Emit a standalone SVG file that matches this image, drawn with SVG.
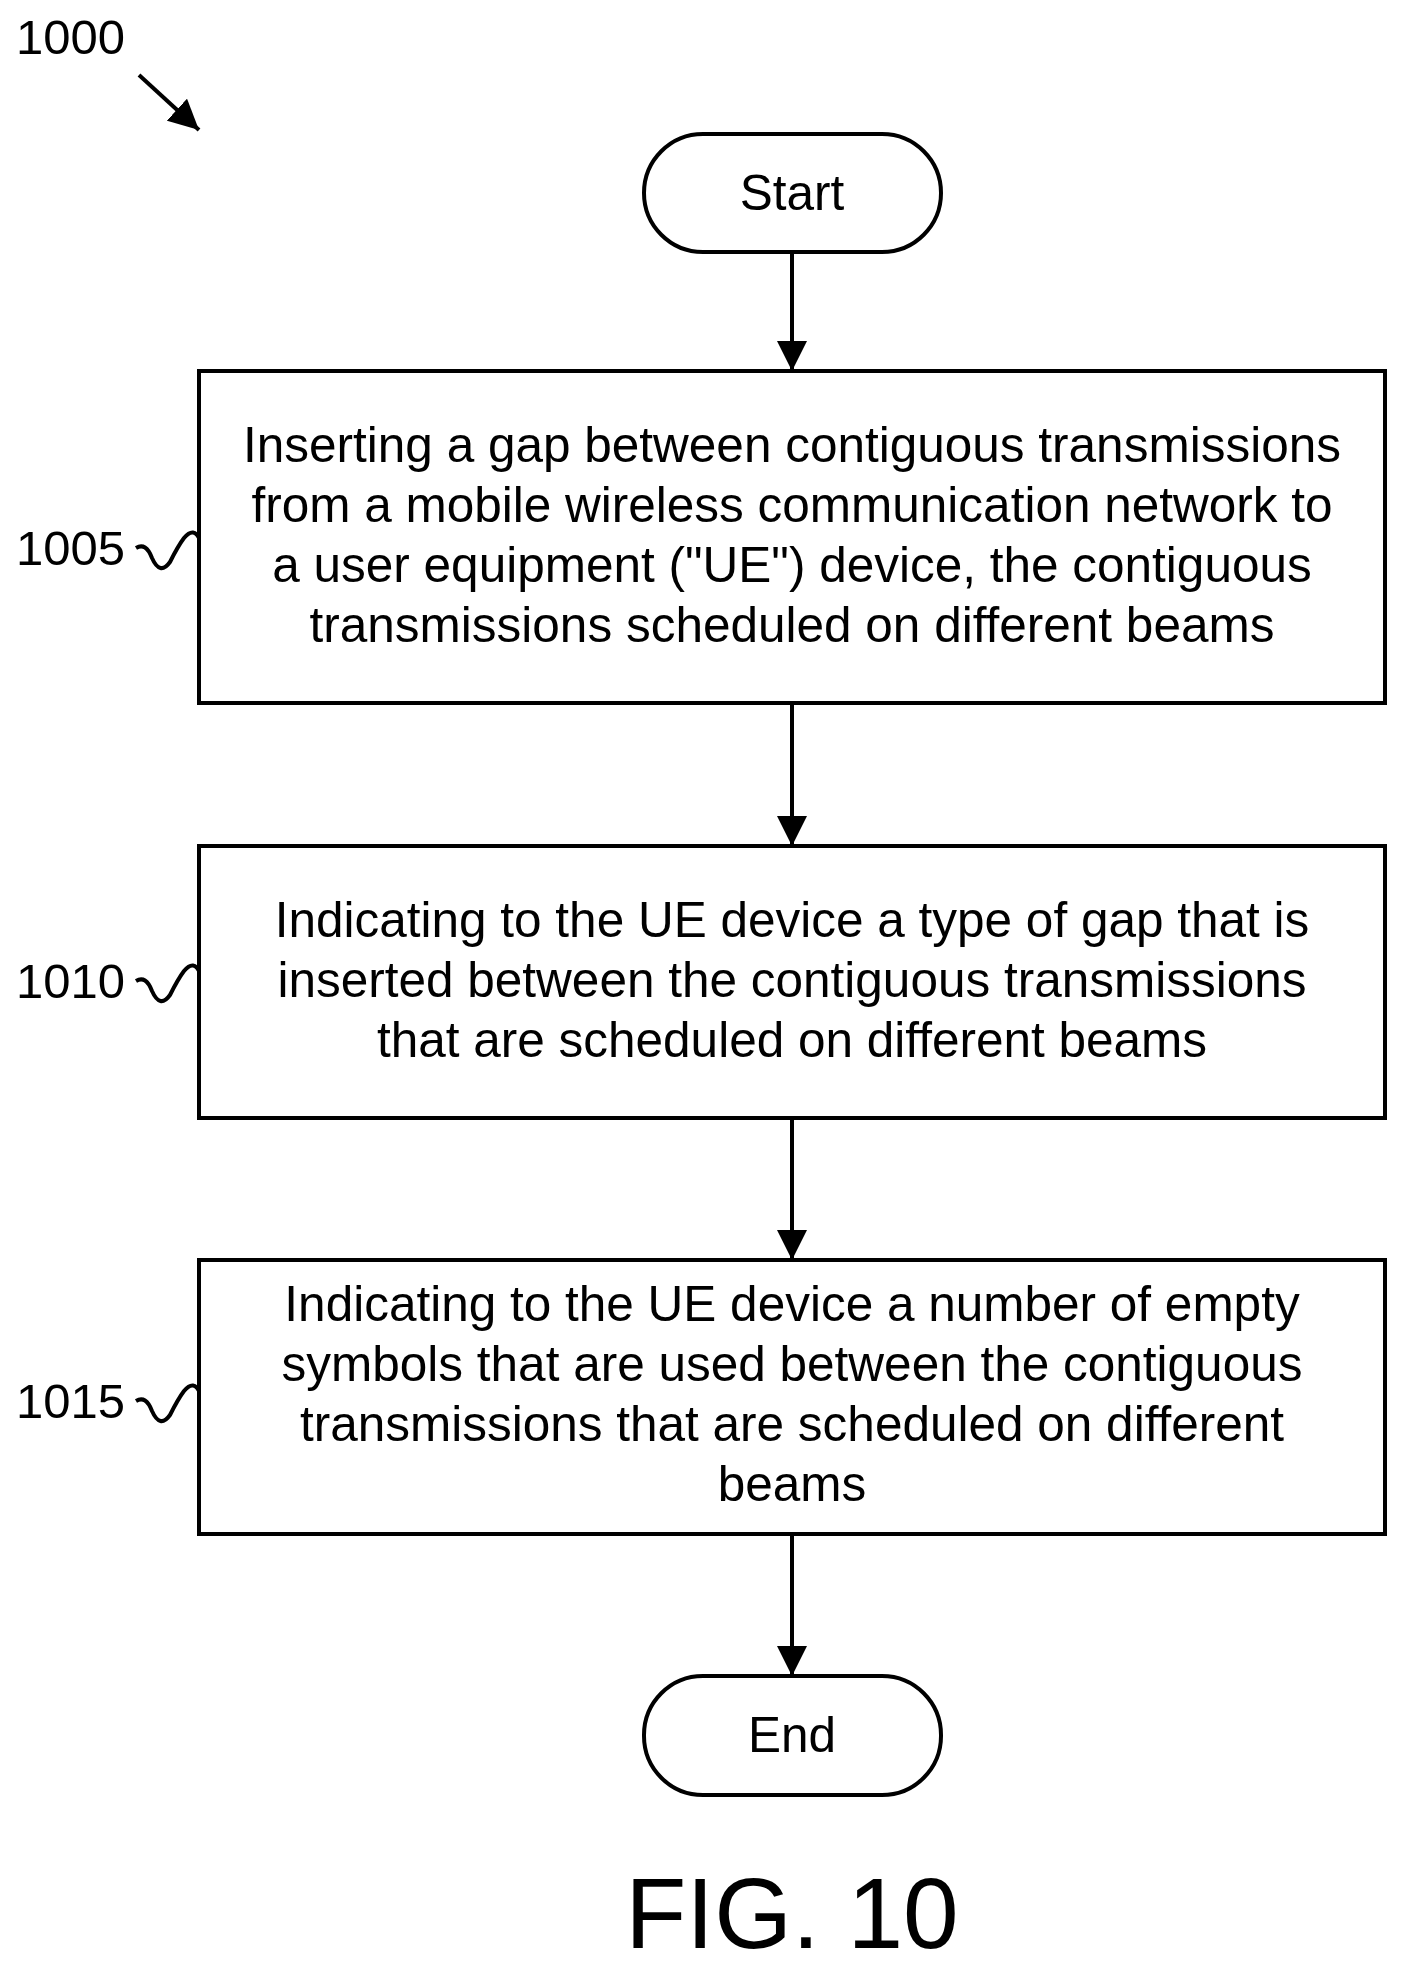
<svg xmlns="http://www.w3.org/2000/svg" width="1403" height="1970" viewBox="0 0 1403 1970">
<style>
text{font-family:"Liberation Sans",Arial,sans-serif;fill:#000}
.t{font-size:49.5px;text-anchor:middle}
.l{font-size:49px}
.s{fill:#fff;stroke:#000;stroke-width:4}
.c{stroke:#000;stroke-width:4;fill:none}
</style>
<defs><marker id="b" viewBox="0 0 10 10" refX="10" refY="5" markerWidth="30" markerHeight="30" markerUnits="userSpaceOnUse" orient="auto"><path d="M0,0L10,5L0,10z" fill="#000"/></marker></defs>
<rect width="1403" height="1970" fill="#fff"/>
<text class="l" x="16" y="54">1000</text>
<g id="connectors">
<line class="c" x1="139" y1="75" x2="199" y2="130" marker-end="url(#b)"/>
<line class="c" x1="792" y1="252" x2="792" y2="371" marker-end="url(#b)"/>
<line class="c" x1="792" y1="703" x2="792" y2="846" marker-end="url(#b)"/>
<line class="c" x1="792" y1="1118" x2="792" y2="1260" marker-end="url(#b)"/>
<line class="c" x1="792" y1="1534" x2="792" y2="1676" marker-end="url(#b)"/>
<path class="c" d="M136,548 q10,-6 16,10 q8,18 18,4 q8,-16 14,-24 q10,-12 16,2"/>
<path class="c" d="M136,981 q10,-6 16,10 q8,18 18,4 q8,-16 14,-24 q10,-12 16,2"/>
<path class="c" d="M136,1401 q10,-6 16,10 q8,18 18,4 q8,-16 14,-24 q10,-12 16,2"/>
</g>
<g id="start"><rect class="s" x="644" y="134" width="297" height="118" rx="59"/><text class="t" x="792" y="210">Start</text></g>
<g id="n1005"><rect class="s" x="199" y="371" width="1186" height="332"/>
<text class="t" x="792" y="462">Inserting a gap between contiguous transmissions</text>
<text class="t" x="792" y="522">from a mobile wireless communication network to</text>
<text class="t" x="792" y="582">a user equipment ("UE") device, the contiguous</text>
<text class="t" x="792" y="642">transmissions scheduled on different beams</text>
<text class="l" x="16" y="565">1005</text></g>
<g id="n1010"><rect class="s" x="199" y="846" width="1186" height="272"/>
<text class="t" x="792" y="937">Indicating to the UE device a type of gap that is</text>
<text class="t" x="792" y="997">inserted between the contiguous transmissions</text>
<text class="t" x="792" y="1057">that are scheduled on different beams</text>
<text class="l" x="16" y="998">1010</text></g>
<g id="n1015"><rect class="s" x="199" y="1260" width="1186" height="274"/>
<text class="t" x="792" y="1321">Indicating to the UE device a number of empty</text>
<text class="t" x="792" y="1381">symbols that are used between the contiguous</text>
<text class="t" x="792" y="1441">transmissions that are scheduled on different</text>
<text class="t" x="792" y="1501">beams</text>
<text class="l" x="16" y="1418">1015</text></g>
<g id="end"><rect class="s" x="644" y="1676" width="297" height="119" rx="59"/><text class="t" x="792" y="1752">End</text></g>
<text x="792" y="1948" style="font-size:100px;text-anchor:middle">FIG. 10</text>
</svg>
